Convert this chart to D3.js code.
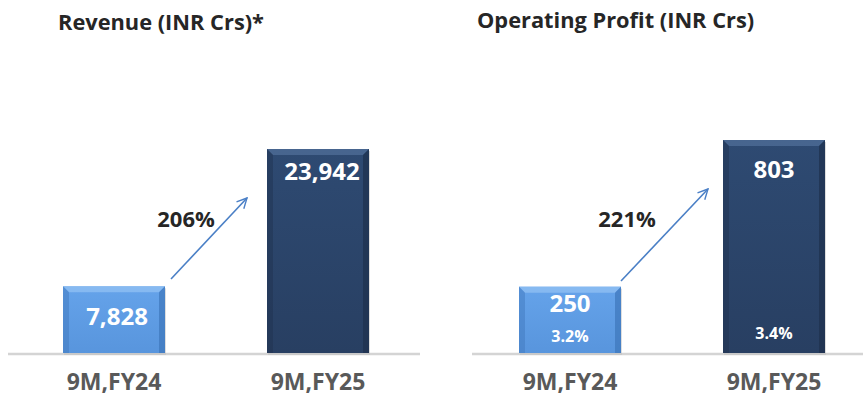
<!DOCTYPE html>
<html>
<head>
<meta charset="utf-8">
<script src="https://cdn.jsdelivr.net/npm/d3@7"></script>
<style>
  body { margin: 0; background: #fff; }
  svg { display: block; font-family: "Open Sans", Lato, sans-serif; }
</style>
</head>
<body>
<div id="chart"></div>
<script>

// chart data
var periods = ["9M,FY24", "9M,FY25"];
var revenue = [7828, 23942];
var opProfit = [250, 803];
var opMargin = ["3.2%", "3.4%"];
var panelTitles = ["Revenue (INR Crs)*", "Operating Profit (INR Crs)"];
var growthLabels = ["206%", "221%"];

var width = 863, height = 400;
var baseY = 353;

var svg = d3.select("#chart")
	.append("svg")
	.attr("width", width)
	.attr("height", height);

var defs = svg.append("defs");

function addGrad(id, c1, c2) {
	var g = defs.append("linearGradient")
		.attr("id", id)
		.attr("x1", 0).attr("y1", 0).attr("x2", 0).attr("y2", 1);
	g.append("stop").attr("offset", "0%").attr("stop-color", c1);
	g.append("stop").attr("offset", "100%").attr("stop-color", c2);
}
addGrad("gLight", "#65a3ea", "#5895dd");
addGrad("gDark", "#2e4a72", "#283f62");

defs.append("marker")
	.attr("id", "arrowHead")
	.attr("viewBox", "0 0 12 12")
	.attr("refX", 11).attr("refY", 6)
	.attr("markerWidth", 12).attr("markerHeight", 12)
	.attr("markerUnits", "userSpaceOnUse")
	.attr("orient", "auto")
	.append("path")
	.attr("d", "M1,1 L11,6 L1,11")
	.attr("fill", "none")
	.attr("stroke", "#4a7fc6")
	.attr("stroke-width", 1.4);

var barColors = ["url(#gLight)", "url(#gDark)"];
var bevelLight = ["#8fbff2", "#4d6b96"];
var bevelDark = ["#3d76bb", "#1e314d"];

/**
 * draw one panel
 */
function drawPanel(opts) {

	var g = svg.append("g");

	var x = d3.scaleBand()
		.domain(periods)
		.range([opts.x0, opts.x1])
		.paddingInner(0.5)
		.paddingOuter(0.25);

	var y = d3.scaleLinear()
		.domain([0, opts.max])
		.range([baseY, opts.topY]);

	// title
	g.append("text")
		.attr("x", opts.titleX)
		.attr("y", opts.titleY)
		.attr("font-size", 21.8)
		.attr("font-weight", "bold")
		.attr("fill", "#262626")
		.text(opts.title);

	// baseline
	g.append("line")
		.attr("x1", opts.lineX0).attr("x2", opts.lineX1)
		.attr("y1", baseY + 1).attr("y2", baseY + 1)
		.attr("stroke", "#d4d4d4")
		.attr("stroke-width", 2.5);

	var bars = g.selectAll("g.bar")
		.data(opts.values)
		.enter()
		.append("g")
		.attr("class", "bar");

	// shadow
	bars.append("rect")
		.attr("x", function(d, i) { return x(periods[i]) + 1; })
		.attr("y", function(d) { return y(d) + 2; })
		.attr("width", x.bandwidth())
		.attr("height", function(d) { return baseY - y(d); })
		.attr("fill", "#bdbdbd")
		.attr("opacity", 0.5);

	bars.append("rect")
		.attr("x", function(d, i) { return x(periods[i]); })
		.attr("y", function(d) { return y(d); })
		.attr("width", x.bandwidth())
		.attr("height", function(d) { return baseY - y(d); })
		.attr("fill", function(d, i) { return barColors[i]; });

	// bevel top and sides
	var bv = 6;
	bars.append("path")
		.attr("d", function(d, i) {
			var l = x(periods[i]), r = l + x.bandwidth(), t = y(d);
			return "M" + l + "," + t + "L" + r + "," + t + "L" + (r - bv) + "," + (t + bv) + "L" + (l + bv) + "," + (t + bv) + "Z";
		})
		.attr("fill", function(d, i) { return bevelLight[i]; })
		.attr("opacity", 0.8);
	bars.append("path")
		.attr("d", function(d, i) {
			var l = x(periods[i]), t = y(d);
			return "M" + l + "," + t + "L" + (l + bv) + "," + (t + bv) + "L" + (l + bv) + "," + baseY + "L" + l + "," + baseY + "Z";
		})
		.attr("fill", function(d, i) { return bevelDark[i]; })
		.attr("opacity", 0.45);
	bars.append("path")
		.attr("d", function(d, i) {
			var r = x(periods[i]) + x.bandwidth(), t = y(d);
			return "M" + r + "," + t + "L" + (r - bv) + "," + (t + bv) + "L" + (r - bv) + "," + baseY + "L" + r + "," + baseY + "Z";
		})
		.attr("fill", function(d, i) { return bevelDark[i]; })
		.attr("opacity", 0.7);

	// value labels
	bars.append("text")
		.attr("x", function(d, i) { return x(periods[i]) + x.bandwidth() / 2 + opts.labelDx[i]; })
		.attr("y", function(d, i) { return opts.labelY(d, i, y); })
		.attr("text-anchor", "middle")
		.attr("font-size", 24)
		.attr("font-weight", "bold")
		.attr("fill", "#fff")
		.text(function(d) { return d3.format(",")(d); });

	if (opts.margins) {
		bars.append("text")
			.attr("x", function(d, i) { return x(periods[i]) + x.bandwidth() / 2; })
			.attr("y", function(d, i) { return i === 0 ? 342 : 339; })
			.attr("text-anchor", "middle")
			.attr("font-size", 16)
			.attr("font-weight", "bold")
			.attr("fill", "#fff")
			.text(function(d, i) { return opts.margins[i]; });
	}

	// category labels
	g.selectAll("text.cat")
		.data(periods)
		.enter()
		.append("text")
		.attr("class", "cat")
		.attr("x", function(d) { return x(d) + x.bandwidth() / 2; })
		.attr("y", 390)
		.attr("text-anchor", "middle")
		.attr("font-size", 23)
		.attr("font-weight", "bold")
		.attr("fill", "#595959")
		.text(function(d) { return d; });

	// growth arrow
	var a = opts.arrow;
	g.append("line")
		.attr("x1", a[0]).attr("y1", a[1])
		.attr("x2", a[2]).attr("y2", a[3])
		.attr("stroke", "#4a7fc6")
		.attr("stroke-width", 1.6)
		.attr("marker-end", "url(#arrowHead)");

	g.append("text")
		.attr("x", opts.growthX)
		.attr("y", 227)
		.attr("text-anchor", "middle")
		.attr("font-size", 22)
		.attr("font-weight", "bold")
		.attr("fill", "#262626")
		.text(opts.growth);
}

drawPanel({
	x0: 12, x1: 420,
	lineX0: 8, lineX1: 420,
	max: revenue[1], topY: 149,
	values: revenue,
	title: panelTitles[0], titleX: 58, titleY: 30,
	labelY: function(d, i, y) { return i === 0 ? 325 : y(d) + 31; },
	labelDx: [3, 4],
	arrow: [171, 279, 247, 198],
	growth: growthLabels[0], growthX: 186
});

drawPanel({
	x0: 468, x1: 876,
	lineX0: 472, lineX1: 863,
	max: opProfit[1], topY: 140,
	values: opProfit,
	margins: opMargin,
	title: panelTitles[1], titleX: 477, titleY: 28,
	labelY: function(d, i, y) { return i === 0 ? 312 : y(d) + 38; },
	labelDx: [0, 0],
	arrow: [621, 281, 708, 189],
	growth: growthLabels[1], growthX: 627
});

</script>
</body>
</html>
